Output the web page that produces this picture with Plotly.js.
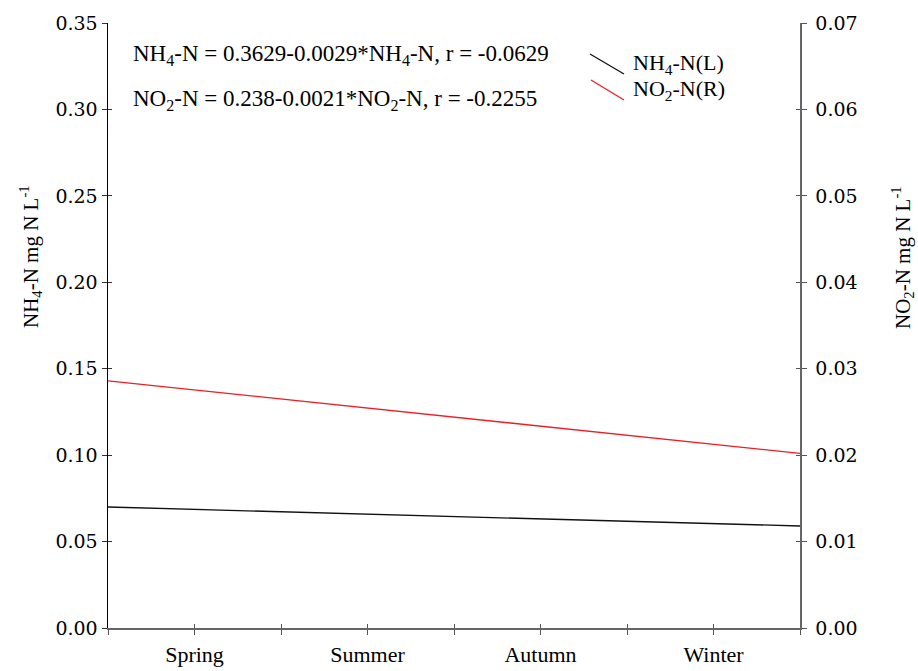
<!DOCTYPE html>
<html>
<head>
<meta charset="utf-8">
<script src="https://cdn.plot.ly/plotly-3.0.1.min.js"></script>
<style>html,body{margin:0;padding:0;background:#fff;}#chart{width:918px;height:671px;}</style>
</head>
<body>
<div id="chart"></div>
<script>
// ---- data ----
const seasons = ["Spring", "Summer", "Autumn", "Winter"];
const seasonPos = [1, 2, 3, 4];
const xTickVals = [0.5, 1, 1.5, 2, 2.5, 3, 3.5, 4, 4.5];
const xTickText = ["", "Spring", "", "Summer", "", "Autumn", "", "Winter", ""];
const fitX = [0.5, 4.5];              // fitted line spans the whole x range
const nh4Fit = [0.0700, 0.0590];      // NH4-N (left axis), mg N L-1
const no2Fit = [0.0286, 0.0202];      // NO2-N (right axis), mg N L-1
const eqNH4 = "NH<sub>4</sub>-N = 0.3629-0.0029*NH<sub>4</sub>-N, r = -0.0629";
const eqNO2 = "NO<sub>2</sub>-N = 0.238-0.0021*NO<sub>2</sub>-N, r = -0.2255";
const legendNH4 = "NH<sub>4</sub>-N(L)";
const legendNO2 = "NO<sub>2</sub>-N(R)";
const yLeftTitle = "NH<sub>4</sub>-N mg N L<sup>-1</sup>";
const yRightTitle = "NO<sub>2</sub>-N mg N L<sup>-1</sup>";

const serif = "'Liberation Serif', 'Times New Roman', serif";
const numFont = "'DejaVu Serif', serif";

const traces = [
  {x: fitX, y: nh4Fit, type: "scatter", mode: "lines", name: "NH4-N(L)",
   line: {color: "#111111", width: 1.3}, xaxis: "x", yaxis: "y", hoverinfo: "skip"},
  {x: fitX, y: no2Fit, type: "scatter", mode: "lines", name: "NO2-N(R)",
   line: {color: "#ee1c25", width: 1.3}, xaxis: "x", yaxis: "y2", hoverinfo: "skip"},
  // empty traces to activate the inner-tick overlay axes
  {x: [null], y: [null], type: "scatter", mode: "lines", xaxis: "x2", yaxis: "y3", hoverinfo: "skip", showlegend: false},
  {x: [null], y: [null], type: "scatter", mode: "lines", xaxis: "x", yaxis: "y4", hoverinfo: "skip", showlegend: false}
];

const L = 108, R = 800, T = 23, B = 628;
const px = v => (v - L) / (R - L);
const py = v => (B - v) / (B - T);

const layout = {
  width: 918, height: 671,
  margin: {l: L, r: 918 - R, t: T, b: 671 - B, pad: 0},
  paper_bgcolor: "#ffffff", plot_bgcolor: "#ffffff",
  showlegend: false,
  xaxis: {
    range: [0.5, 4.5], tickmode: "array", tickvals: xTickVals, ticktext: xTickText,
    ticks: "outside", ticklen: 5, tickwidth: 1, tickcolor: "#555",
    showline: true, linecolor: "#666", linewidth: 1.5,
    showgrid: false, zeroline: false, ticklabelstandoff: 1,
    tickfont: {family: serif, size: 22, color: "#000"}
  },
  xaxis2: {
    overlaying: "x", anchor: "y", range: [0.5, 4.5], tickmode: "array", tickvals: xTickVals,
    ticks: "inside", ticklen: 4, tickwidth: 1, tickcolor: "#555",
    showticklabels: false, showline: false, showgrid: false, zeroline: false
  },
  yaxis: {
    range: [0, 0.35], dtick: 0.05, tick0: 0, tickformat: ".2f",
    ticks: "outside", ticklen: 5, tickwidth: 1, tickcolor: "#333",
    showline: true, linecolor: "#000", linewidth: 1.5,
    showgrid: false, zeroline: false, ticklabelstandoff: 0,
    tickfont: {family: numFont, size: 19, color: "#000"}
  },
  yaxis3: {
    overlaying: "y", anchor: "x2", side: "left", range: [0, 0.35], dtick: 0.05, tick0: 0,
    ticks: "inside", ticklen: 4, tickwidth: 1, tickcolor: "#333",
    showticklabels: false, showline: false, showgrid: false, zeroline: false
  },
  yaxis2: {
    overlaying: "y", side: "right", anchor: "x", range: [0, 0.07], dtick: 0.01, tick0: 0, tickformat: ".2f",
    ticks: "outside", ticklen: 5, tickwidth: 1, tickcolor: "#555",
    showline: true, linecolor: "#666", linewidth: 1.5,
    showgrid: false, zeroline: false, ticklabelstandoff: 5,
    tickfont: {family: numFont, size: 19, color: "#000"}
  },
  yaxis4: {
    overlaying: "y", side: "right", anchor: "x", range: [0, 0.07], dtick: 0.01, tick0: 0,
    ticks: "inside", ticklen: 4, tickwidth: 1, tickcolor: "#555",
    showticklabels: false, showline: false, showgrid: false, zeroline: false
  },
  shapes: [
    {type: "line", xref: "paper", yref: "paper", x0: px(590), y0: py(54), x1: px(624), y1: py(74),
     line: {color: "#111", width: 1.3}},
    {type: "line", xref: "paper", yref: "paper", x0: px(591), y0: py(80), x1: px(624), y1: py(100),
     line: {color: "#ee1c25", width: 1.3}}
  ],
  annotations: [
    {text: eqNH4, xref: "paper", yref: "paper", x: px(131), y: py(55), xanchor: "left", yanchor: "middle",
     showarrow: false, font: {family: serif, size: 23, color: "#000"}},
    {text: eqNO2, xref: "paper", yref: "paper", x: px(131), y: py(100), xanchor: "left", yanchor: "middle",
     showarrow: false, font: {family: serif, size: 23, color: "#000"}},
    {text: legendNH4, xref: "paper", yref: "paper", x: px(631), y: py(64), xanchor: "left", yanchor: "middle",
     showarrow: false, font: {family: serif, size: 22, color: "#000"}},
    {text: legendNO2, xref: "paper", yref: "paper", x: px(631), y: py(90), xanchor: "left", yanchor: "middle",
     showarrow: false, font: {family: serif, size: 22, color: "#000"}},
    {text: yLeftTitle, xref: "paper", yref: "paper", x: px(30), y: py(257), xanchor: "center", yanchor: "middle",
     textangle: -90, showarrow: false, font: {family: serif, size: 21, color: "#000"}},
    {text: yRightTitle, xref: "paper", yref: "paper", x: px(902), y: py(257), xanchor: "center", yanchor: "middle",
     textangle: -90, showarrow: false, font: {family: serif, size: 21, color: "#000"}}
  ]
};

Plotly.newPlot("chart", traces, layout, {staticPlot: true, displayModeBar: false});
</script>
</body>
</html>
